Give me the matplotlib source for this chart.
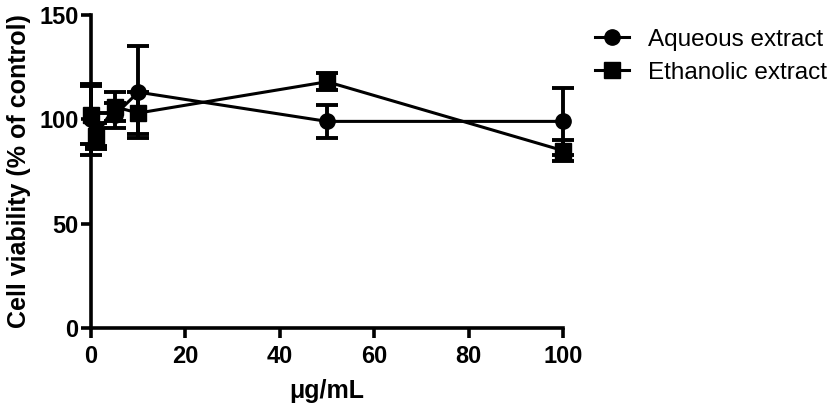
import matplotlib
matplotlib.use("Agg")
import matplotlib.pyplot as plt
from matplotlib.lines import Line2D

plt.rcParams['font.family'] = ['Liberation Sans', 'DejaVu Sans']

conc = [0, 1, 5, 10, 50, 100]
aq_mean = [100, 95, 102, 113, 99, 99]
aq_err = [17, 8, 6, 22, 8, 16]
eth_mean = [102, 92, 106, 103, 118, 85]
eth_err = [14, 6, 7, 10, 4, 5]

fig = plt.figure(figsize=(8.39, 4.13), dpi=100)
ax = fig.add_axes([0.1085, 0.2058, 0.5626, 0.758])

style = dict(color='black', lw=2.2, ms=11, elinewidth=2.8, capsize=8, capthick=2.8, clip_on=False)
ax.errorbar(conc, aq_mean, yerr=aq_err, marker='o', **style)
ax.errorbar(conc, eth_mean, yerr=eth_err, marker='s', **style)

ax.set_xlim(0, 100)
ax.set_ylim(0, 150)
ax.set_xticks(range(0, 101, 20))
ax.set_yticks([0, 50, 100, 150])
for s in ['top', 'right']:
    ax.spines[s].set_visible(False)
for s in ['left', 'bottom']:
    ax.spines[s].set_linewidth(2.6)
ax.tick_params(width=2.6, length=7, labelsize=17, pad=2)
ax.tick_params(axis='x', pad=5)
for lab in ax.get_xticklabels() + ax.get_yticklabels():
    lab.set_fontweight('bold')

ax.set_xlabel('\u03bcg/mL', fontsize=18, fontweight='bold', labelpad=8)
ax.set_ylabel('Cell viability (% of control)', fontsize=18, fontweight='bold', labelpad=6)

handles = [Line2D([], [], color='black', lw=2.2, marker='o', ms=11),
           Line2D([], [], color='black', lw=2.2, marker='s', ms=11)]
labels = ['Aqueous extract', 'Ethanolic extract']
fig.legend(handles, labels, loc='upper left', bbox_to_anchor=(0.709, 0.93), frameon=False,
           fontsize=17.5, handlelength=1.4, labelspacing=0.45, handletextpad=0.8,
           borderpad=0, borderaxespad=0)

fig.savefig('out.png', dpi=100)
